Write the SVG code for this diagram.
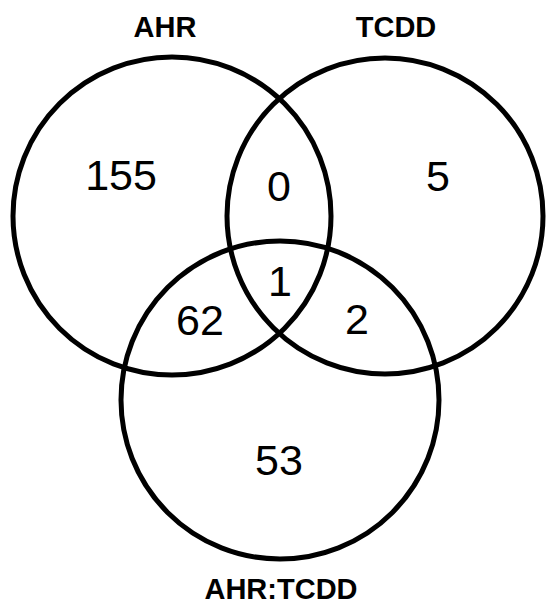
<svg xmlns="http://www.w3.org/2000/svg" width="547" height="606" viewBox="0 0 547 606">
<style>
.c{fill:none;stroke:#000;stroke-width:5}
.t{font-family:"Liberation Sans",Arial,sans-serif;font-weight:bold;font-size:29px;text-anchor:middle;fill:#000}
.n{font-family:"Liberation Sans",Arial,sans-serif;font-size:43px;text-anchor:middle;fill:#000}
</style>
<rect width="547" height="606" fill="#fff"/>
<g id="AHR">
<circle class="c" cx="172" cy="216" r="159"/>
<text class="t" x="165" y="37">AHR</text>
</g>
<g id="TCDD">
<circle class="c" cx="385" cy="216" r="158"/>
<text class="t" x="396" y="37">TCDD</text>
</g>
<g id="AHR_TCDD">
<circle class="c" cx="280" cy="400" r="159"/>
<text class="t" x="281" y="599">AHR:TCDD</text>
</g>
<g id="counts">
<text class="n" x="121" y="190">155</text>
<text class="n" x="438" y="191">5</text>
<text class="n" x="279" y="201">0</text>
<text class="n" x="280" y="296">1</text>
<text class="n" x="200" y="335">62</text>
<text class="n" x="357" y="334">2</text>
<text class="n" x="279" y="475">53</text>
</g>
</svg>
